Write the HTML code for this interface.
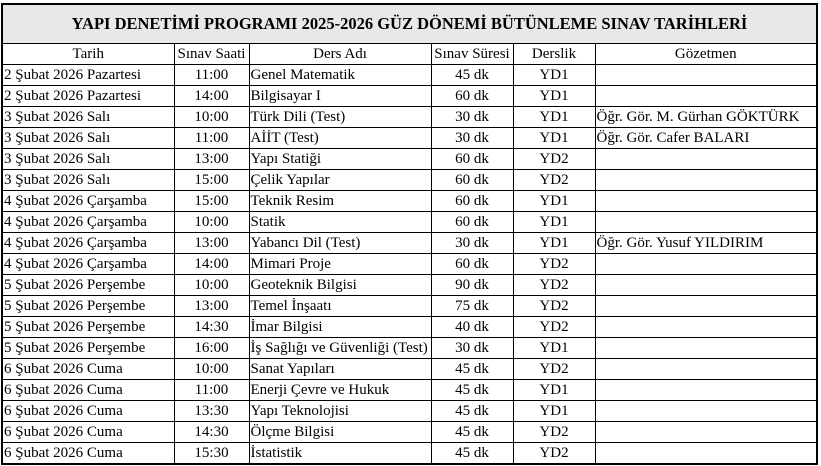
<!DOCTYPE html>
<html><head><meta charset="utf-8"><style>
body{margin:0;background:#fff;width:821px;height:466px;overflow:hidden;font-family:"Liberation Serif",serif;}
table{position:absolute;left:1px;top:3px;border-collapse:collapse;table-layout:fixed;border:2px solid #000;}
td{border:1px solid #000;padding:0 1px;font-size:15px;height:20px;line-height:20px;white-space:nowrap;overflow:hidden;color:#000;}
td.c{text-align:center}
tr.t td{background:#e8e8e8;height:38px;font-weight:bold;font-size:16.5px;text-align:center;}
</style></head><body>
<table>
<colgroup><col style="width:172px"><col style="width:75px"><col style="width:182px"><col style="width:82px"><col style="width:82px"><col style="width:222px"></colgroup>
<tr class="t"><td colspan="6">YAPI DENETİMİ PROGRAMI 2025-2026 GÜZ DÖNEMİ BÜTÜNLEME SINAV TARİHLERİ</td></tr>
<tr><td class="c">Tarih</td><td class="c">Sınav Saati</td><td class="c">Ders Adı</td><td class="c">Sınav Süresi</td><td class="c">Derslik</td><td class="c">Gözetmen</td></tr>
<tr><td>2 Şubat 2026 Pazartesi</td><td class="c">11:00</td><td>Genel Matematik</td><td class="c">45 dk</td><td class="c">YD1</td><td></td></tr>
<tr><td>2 Şubat 2026 Pazartesi</td><td class="c">14:00</td><td>Bilgisayar I</td><td class="c">60 dk</td><td class="c">YD1</td><td></td></tr>
<tr><td>3 Şubat 2026 Salı</td><td class="c">10:00</td><td>Türk Dili (Test)</td><td class="c">30 dk</td><td class="c">YD1</td><td>Öğr. Gör. M. Gürhan GÖKTÜRK</td></tr>
<tr><td>3 Şubat 2026 Salı</td><td class="c">11:00</td><td>AİİT (Test)</td><td class="c">30 dk</td><td class="c">YD1</td><td>Öğr. Gör. Cafer BALARI</td></tr>
<tr><td>3 Şubat 2026 Salı</td><td class="c">13:00</td><td>Yapı Statiği</td><td class="c">60 dk</td><td class="c">YD2</td><td></td></tr>
<tr><td>3 Şubat 2026 Salı</td><td class="c">15:00</td><td>Çelik Yapılar</td><td class="c">60 dk</td><td class="c">YD2</td><td></td></tr>
<tr><td>4 Şubat 2026 Çarşamba</td><td class="c">15:00</td><td>Teknik Resim</td><td class="c">60 dk</td><td class="c">YD1</td><td></td></tr>
<tr><td>4 Şubat 2026 Çarşamba</td><td class="c">10:00</td><td>Statik</td><td class="c">60 dk</td><td class="c">YD1</td><td></td></tr>
<tr><td>4 Şubat 2026 Çarşamba</td><td class="c">13:00</td><td>Yabancı Dil (Test)</td><td class="c">30 dk</td><td class="c">YD1</td><td>Öğr. Gör. Yusuf YILDIRIM</td></tr>
<tr><td>4 Şubat 2026 Çarşamba</td><td class="c">14:00</td><td>Mimari Proje</td><td class="c">60 dk</td><td class="c">YD2</td><td></td></tr>
<tr><td>5 Şubat 2026 Perşembe</td><td class="c">10:00</td><td>Geoteknik Bilgisi</td><td class="c">90 dk</td><td class="c">YD2</td><td></td></tr>
<tr><td>5 Şubat 2026 Perşembe</td><td class="c">13:00</td><td>Temel İnşaatı</td><td class="c">75 dk</td><td class="c">YD2</td><td></td></tr>
<tr><td>5 Şubat 2026 Perşembe</td><td class="c">14:30</td><td>İmar Bilgisi</td><td class="c">40 dk</td><td class="c">YD2</td><td></td></tr>
<tr><td>5 Şubat 2026 Perşembe</td><td class="c">16:00</td><td>İş Sağlığı ve Güvenliği (Test)</td><td class="c">30 dk</td><td class="c">YD1</td><td></td></tr>
<tr><td>6 Şubat 2026 Cuma</td><td class="c">10:00</td><td>Sanat Yapıları</td><td class="c">45 dk</td><td class="c">YD2</td><td></td></tr>
<tr><td>6 Şubat 2026 Cuma</td><td class="c">11:00</td><td>Enerji Çevre ve Hukuk</td><td class="c">45 dk</td><td class="c">YD1</td><td></td></tr>
<tr><td>6 Şubat 2026 Cuma</td><td class="c">13:30</td><td>Yapı Teknolojisi</td><td class="c">45 dk</td><td class="c">YD1</td><td></td></tr>
<tr><td>6 Şubat 2026 Cuma</td><td class="c">14:30</td><td>Ölçme Bilgisi</td><td class="c">45 dk</td><td class="c">YD2</td><td></td></tr>
<tr><td>6 Şubat 2026 Cuma</td><td class="c">15:30</td><td>İstatistik</td><td class="c">45 dk</td><td class="c">YD2</td><td></td></tr>
</table>
</body></html>
